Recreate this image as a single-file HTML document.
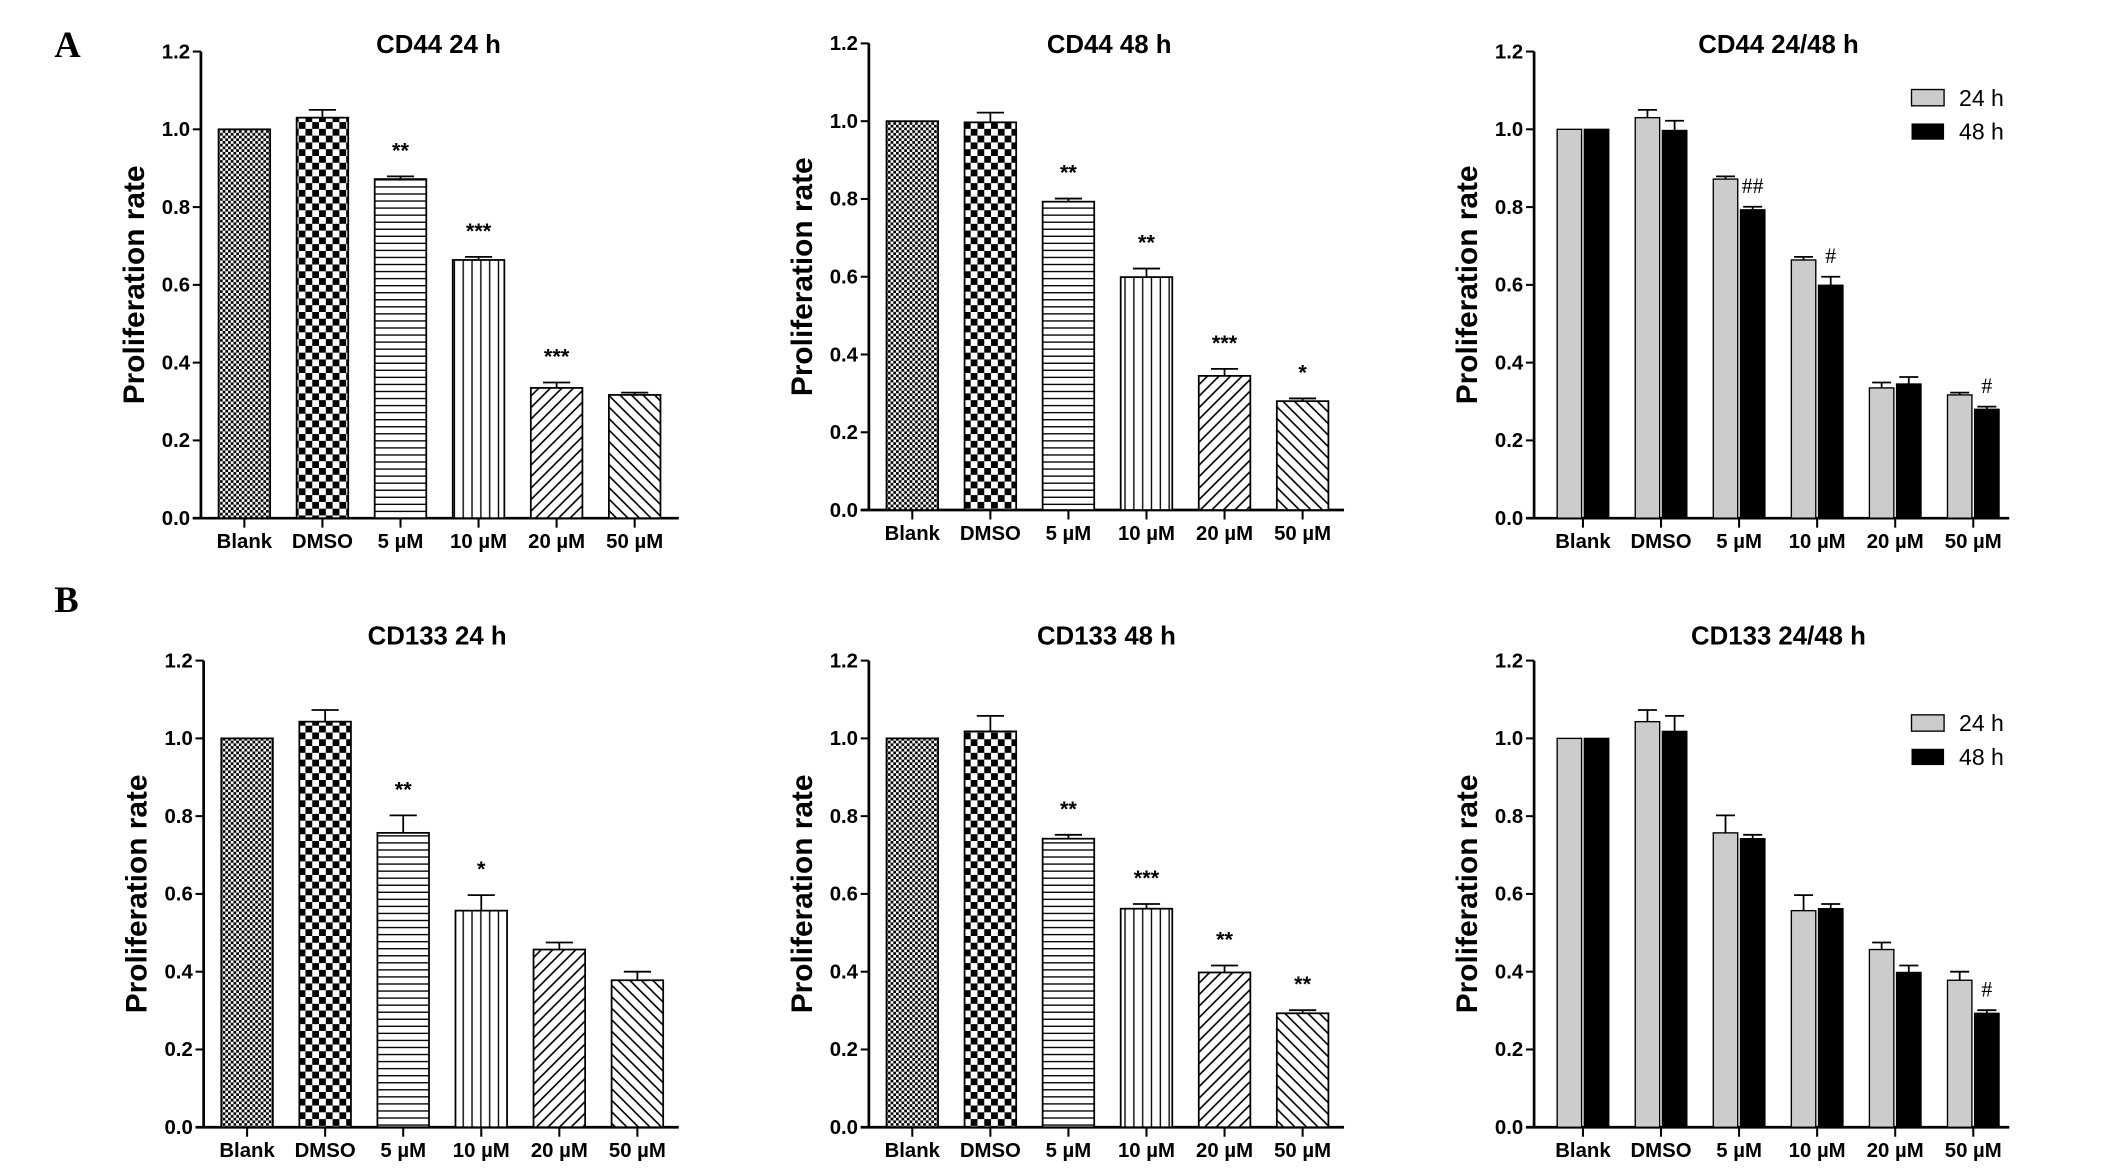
<!DOCTYPE html>
<html><head><meta charset="utf-8">
<style>
html,body{margin:0;padding:0;background:#fff;}
svg{display:block;}
text{font-family:"Liberation Sans",Arial,sans-serif;}
text.serif{font-family:"Liberation Serif","Times New Roman",serif;}
</style></head>
<body>
<svg id="fig" xmlns="http://www.w3.org/2000/svg" width="2126" height="1172" viewBox="0 0 1566 864" preserveAspectRatio="none">
<defs>
<pattern id="pBlank" width="4" height="4" patternUnits="userSpaceOnUse"><rect width="4" height="4" fill="#fff"/><rect width="2" height="2" fill="#000"/><rect x="2" y="2" width="2" height="2" fill="#000"/></pattern>
<pattern id="pDmso" width="10" height="10" patternUnits="userSpaceOnUse"><rect width="10" height="10" fill="#fff"/><rect width="5" height="5" fill="#000"/><rect x="5" y="5" width="5" height="5" fill="#000"/></pattern>
<pattern id="pH" width="6" height="5.2" patternUnits="userSpaceOnUse"><rect width="6" height="5.2" fill="#fff"/><line x1="0" y1="2.6" x2="6" y2="2.6" stroke="#000" stroke-width="1"/></pattern>
<pattern id="pV" width="6.5" height="6" patternUnits="userSpaceOnUse"><rect width="6.5" height="6" fill="#fff"/><line x1="3.2" y1="0" x2="3.2" y2="6" stroke="#000" stroke-width="1"/></pattern>
<pattern id="pF" width="6" height="6" patternUnits="userSpaceOnUse" patternTransform="rotate(45)"><rect width="6" height="6" fill="#fff"/><line x1="3" y1="0" x2="3" y2="6" stroke="#000" stroke-width="1.2"/></pattern>
<pattern id="pB" width="6" height="6" patternUnits="userSpaceOnUse" patternTransform="rotate(-45)"><rect width="6" height="6" fill="#fff"/><line x1="3" y1="0" x2="3" y2="6" stroke="#000" stroke-width="1.2"/></pattern>
</defs>
<text class="serif" x="40" y="42" font-weight="bold" font-size="27">A</text>
<text class="serif" x="40" y="451" font-weight="bold" font-size="27">B</text>
</svg>
<script>
const categories = ["Blank","DMSO","5 µM","10 µM","20 µM","50 µM"];
const yTicks = [0,0.2,0.4,0.6,0.8,1.0,1.2];
const yTickLabels = ["0.0","0.2","0.4","0.6","0.8","1.0","1.2"];
const cd44_24 = [1.0,1.03,0.872,0.664,0.335,0.317];
const cd44_24_err = [0,0.02,0.007,0.008,0.014,0.006];
const cd44_48 = [1.0,0.997,0.793,0.599,0.345,0.28];
const cd44_48_err = [0,0.025,0.008,0.022,0.018,0.007];
const cd133_24 = [1.0,1.043,0.757,0.557,0.457,0.378];
const cd133_24_err = [0,0.03,0.045,0.04,0.018,0.022];
const cd133_48 = [1.0,1.018,0.742,0.562,0.398,0.293];
const cd133_48_err = [0,0.04,0.01,0.012,0.018,0.008];
const sig_cd44_24 = ["","","**","***","***",""];
const sig_cd44_48 = ["","","**","**","***","*"];
const sig_cd44_cmp = ["","","##","#","","#"];
const sig_cd133_24 = ["","","**","*","",""];
const sig_cd133_48 = ["","","**","***","**","**"];
const sig_cd133_cmp = ["","","","","","#"];
const fills = ["url(#pBlank)","url(#pDmso)","url(#pH)","url(#pV)","url(#pF)","url(#pB)"];

const NS="http://www.w3.org/2000/svg";
const svg=document.getElementById('fig');
function mk(tag,attrs,parent,txt){const e=document.createElementNS(NS,tag);for(const k in attrs)e.setAttribute(k,attrs[k]);if(txt!==undefined)e.textContent=txt;(parent||svg).appendChild(e);return e;}

function panel(cfg){
  const g=mk('g',{});
  
  
  const x0=cfg.x0,x1=cfg.x1,yTop=cfg.yTop,yBot=cfg.yBot;
  const ys=v=>yBot-(v/1.2)*(yBot-yTop);
  const off=cfg.grouped?36:32;
  const xc=i=>x0+off+57.5*i;
  const ya=mk('line',{x1:x0,y1:yTop,x2:x0,y2:yBot,stroke:'#000','stroke-width':2},g);
  
  const xa=mk('line',{x1:x0-6,y1:yBot,x2:x1,y2:yBot,stroke:'#000','stroke-width':2},g);
  
  yTicks.forEach((t,i)=>{
    mk('line',{x1:x0-6,y1:ys(t),x2:x0,y2:ys(t),stroke:'#000','stroke-width':1.5},g);
    const tl=mk('text',{x:x0-8,y:ys(t)+5,'text-anchor':'end','font-size':15,'font-weight':'bold'},g,yTickLabels[i]);
    
  });
  categories.forEach((c,i)=>{
    mk('line',{x1:xc(i),y1:yBot,x2:xc(i),y2:yBot+7,stroke:'#000','stroke-width':1.5},g);
    const tl=mk('text',{x:xc(i),y:yBot+22,'text-anchor':'middle','font-size':15,'font-weight':'bold'},g,c);
    
  });
  const tt=mk('text',{x:cfg.tx,y:cfg.ty,'text-anchor':'middle','font-size':19,'font-weight':'bold'},g,cfg.title);
  
  const yc=(yTop+yBot)/2;
  const yt=mk('text',{x:0,y:0,'text-anchor':'middle','font-size':22,'font-weight':'bold',transform:`translate(${x0-42},${yc}) rotate(-90)`},g,'Proliferation rate');
  
  function errbar(cx,v,e,hw){
    if(e<=0)return;
    mk('line',{x1:cx,y1:ys(v),x2:cx,y2:ys(v+e),stroke:'#000','stroke-width':1.3},g);
    mk('line',{x1:cx-hw,y1:ys(v+e),x2:cx+hw,y2:ys(v+e),stroke:'#000','stroke-width':1.3},g);
  }
  if(!cfg.grouped){
    const bw=38;
    cfg.vals.forEach((v,i)=>{
      const b=mk('rect',{x:xc(i)-bw/2,y:ys(v),width:bw,height:yBot-ys(v),fill:fills[i],stroke:'#000','stroke-width':1.3},g);
      
      errbar(xc(i),v,cfg.errs[i],10);
      if(cfg.sig[i]){
        const s=mk('text',{x:xc(i),y:ys(v+cfg.errs[i])-14,'text-anchor':'middle','font-size':16,'font-weight':'bold'},g,cfg.sig[i]);
        
      }
    });
  } else {
    const bw=18;
    cfg.vals.forEach((v,i)=>{
      const cx1=xc(i)-10,cx2=xc(i)+10;
      const b1=mk('rect',{x:cx1-bw/2,y:ys(v),width:bw,height:yBot-ys(v),fill:'#cccccc',stroke:'#000','stroke-width':1},g);
      
      errbar(cx1,v,cfg.errs[i],7);
      const v2=cfg.vals2[i];
      const b2=mk('rect',{x:cx2-bw/2,y:ys(v2),width:bw,height:yBot-ys(v2),fill:'#000',stroke:'#000','stroke-width':1},g);
      
      errbar(cx2,v2,cfg.errs2[i],7);
      if(cfg.sig[i]){
        const s=mk('text',{x:cx2,y:ys(v2+cfg.errs2[i])-10,'text-anchor':'middle','font-size':16,'class':'serif'},g,cfg.sig[i]);
        
      }
    });
    const ly=cfg.legY;
    const l1=mk('rect',{x:1408,y:ly-6,width:24,height:12,fill:'#cccccc',stroke:'#000','stroke-width':1},g);
    
    const t1=mk('text',{x:1443,y:ly+6,'font-size':17},g,'24 h');
    
    const l2=mk('rect',{x:1408,y:ly+19,width:24,height:12,fill:'#000'},g);
    
    const t2=mk('text',{x:1443,y:ly+31,'font-size':17},g,'48 h');
    
  }
}
panel({name:'cd44-24h-chart',x0:148,x1:500,yTop:38,yBot:382,tx:323,ty:39,title:'CD44 24 h',vals:cd44_24,errs:cd44_24_err,sig:sig_cd44_24});
panel({name:'cd44-48h-chart',x0:640,x1:990,yTop:32,yBot:376,tx:817,ty:39,title:'CD44 48 h',vals:cd44_48,errs:cd44_48_err,sig:sig_cd44_48});
panel({name:'cd44-24-48h-chart',grouped:true,x0:1130,x1:1480,yTop:38,yBot:382,tx:1310,ty:39,title:'CD44 24/48 h',vals:cd44_24,errs:cd44_24_err,vals2:cd44_48,errs2:cd44_48_err,sig:sig_cd44_cmp,legY:72});
panel({name:'cd133-24h-chart',x0:150,x1:500,yTop:487,yBot:831,tx:322,ty:475,title:'CD133 24 h',vals:cd133_24,errs:cd133_24_err,sig:sig_cd133_24});
panel({name:'cd133-48h-chart',x0:640,x1:990,yTop:487,yBot:831,tx:815,ty:475,title:'CD133 48 h',vals:cd133_48,errs:cd133_48_err,sig:sig_cd133_48});
panel({name:'cd133-24-48h-chart',grouped:true,x0:1130,x1:1480,yTop:487,yBot:831,tx:1310,ty:475,title:'CD133 24/48 h',vals:cd133_24,errs:cd133_24_err,vals2:cd133_48,errs2:cd133_48_err,sig:sig_cd133_cmp,legY:533});
</script>
</body></html>
